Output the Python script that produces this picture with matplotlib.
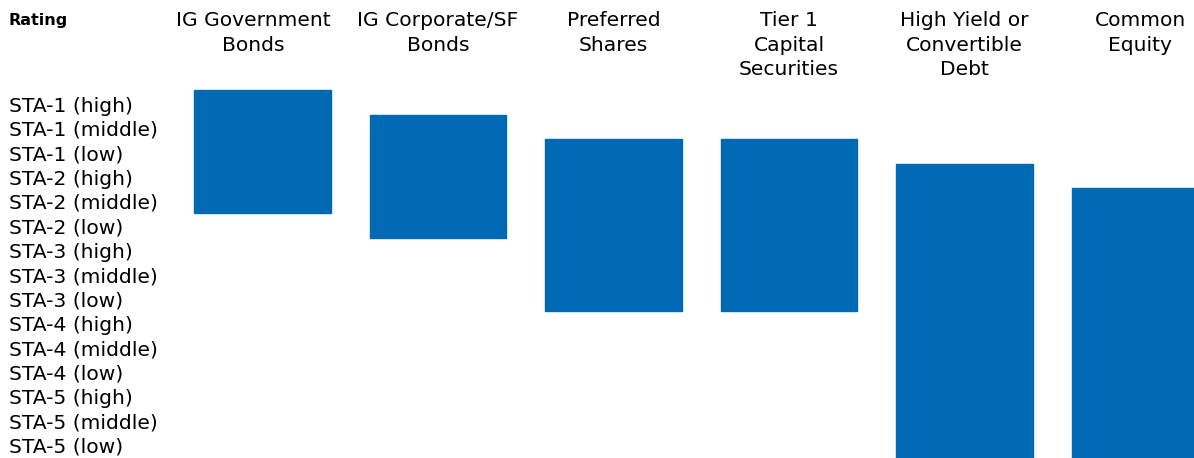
"""Rating ranges by security type, drawn as a block table."""
import numpy as np
import matplotlib.pyplot as plt

ratings = ['STA-1 (high)', 'STA-1 (middle)', 'STA-1 (low)',
           'STA-2 (high)', 'STA-2 (middle)', 'STA-2 (low)',
           'STA-3 (high)', 'STA-3 (middle)', 'STA-3 (low)',
           'STA-4 (high)', 'STA-4 (middle)', 'STA-4 (low)',
           'STA-5 (high)', 'STA-5 (middle)', 'STA-5 (low)']
columns = ['IG Government\nBonds', 'IG Corporate/SF\nBonds', 'Preferred\nShares',
           'Tier 1\nCapital\nSecurities', 'High Yield or\nConvertible\nDebt',
           'Common\nEquity']
# best and worst rating allowed for each security type
top_rating = ['STA-1 (high)', 'STA-1 (middle)', 'STA-1 (low)', 'STA-1 (low)',
              'STA-2 (high)', 'STA-2 (middle)']
bottom_rating = ['STA-2 (middle)', 'STA-2 (low)', 'STA-3 (low)', 'STA-3 (low)',
                 'STA-5 (low)', 'STA-5 (low)']

BLUE = '#0069b4'

fig = plt.figure(figsize=(11.94, 4.58), dpi=100)
ax = fig.add_axes([0, 0, 1, 1])

start = np.array([ratings.index(r) for r in top_rating])
end = np.array([ratings.index(r) for r in bottom_rating]) + 1
xpos = np.arange(len(columns))
ax.bar(xpos, end - start, bottom=start, width=0.775, color=BLUE,
       edgecolor=BLUE, linewidth=1.0, align='center')

# pixel-based layout: column pitch 175.5 px, row pitch 24.6 px
col_px, row_px = 175.5, 24.6
ax.set_xlim(-262.5 / col_px, (1194 - 262.5) / col_px)
ax.set_ylim((458 - 90) / row_px, -90 / row_px)
ax.axis('off')

x_lab = -262.5 / col_px + 9 / col_px
for i, r in enumerate(ratings):
    ax.text(x_lab, (16 + 24.36 * i) / row_px, r, ha='left', va='center',
            fontsize=14.6, color='black')

ax.text(x_lab, (20 - 90) / row_px, 'Rating', ha='left', va='center',
        fontsize=11.5, fontweight='bold')

for x, c in zip(xpos, columns):
    shift = -0.05 if x == 0 else 0.0
    ax.text(x + shift, (11 - 90) / row_px, c, ha='center', va='top',
            fontsize=14.6, linespacing=1.38)

plt.savefig('out.png', dpi=100)
